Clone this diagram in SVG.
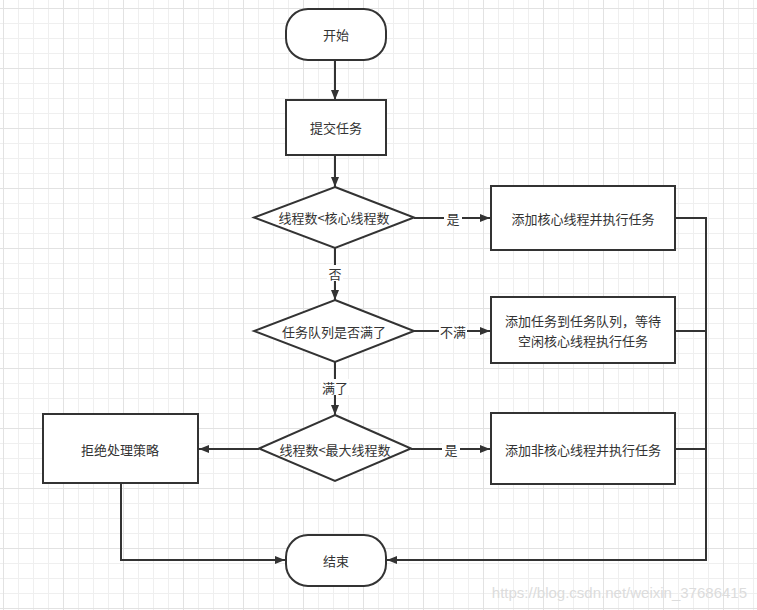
<svg xmlns="http://www.w3.org/2000/svg" width="757" height="610" viewBox="0 0 757 610">
<defs>
<pattern id="grid" x="3" y="8" width="60" height="60" patternUnits="userSpaceOnUse">
<path d="M15.5 0V60M30.5 0V60M45.5 0V60M0 15.5H60M0 30.5H60M0 45.5H60" stroke="#efefef" stroke-width="1" fill="none"/>
<path d="M0.5 0V60M0 0.5H60" stroke="#e2e2e2" stroke-width="1" fill="none"/>
</pattern>
<marker id="arr" viewBox="0 0 10 8" refX="10" refY="4" markerWidth="10" markerHeight="8" markerUnits="userSpaceOnUse" orient="auto">
<path d="M0 0L10 4L0 8Z" fill="#333"/>
</marker>
<style>
.n{fill:#fff;stroke:#333;stroke-width:2}
.t{font-family:"Noto Sans CJK SC","Liberation Sans",sans-serif;font-size:13px;fill:#333;text-anchor:middle;dominant-baseline:central}
.c{fill:none;stroke:#333;stroke-width:2}
.lb{fill:#fff}
</style>
</defs>
<rect width="757" height="610" fill="#fff"/>
<rect width="757" height="610" fill="url(#grid)"/>
<g id="connectors">
<path class="c" d="M335 60V100" marker-end="url(#arr)"/>
<path class="c" d="M335 155V187" marker-end="url(#arr)"/>
<path class="c" d="M335 248V300" marker-end="url(#arr)"/>
<path class="c" d="M335 362V415" marker-end="url(#arr)"/>
<path class="c" d="M414 218H490" marker-end="url(#arr)"/>
<path class="c" d="M414 331H490" marker-end="url(#arr)"/>
<path class="c" d="M411 449H490" marker-end="url(#arr)"/>
<path class="c" d="M259 449H199" marker-end="url(#arr)"/>
<path class="c" d="M675 218H706V560H387" marker-end="url(#arr)"/>
<path class="c" d="M675 331H706"/>
<path class="c" d="M675 449H706"/>
<path class="c" d="M121 484V560H285" marker-end="url(#arr)"/>
<rect class="lb" x="444" y="210" width="18" height="16"/>
<text class="t" x="453" y="218">是</text>
<rect class="lb" x="439" y="323" width="28" height="16"/>
<text class="t" x="453" y="331">不满</text>
<rect class="lb" x="442" y="441" width="18" height="16"/>
<text class="t" x="451" y="449">是</text>
<rect class="lb" x="327" y="265" width="16" height="16"/>
<text class="t" x="335" y="273">否</text>
<rect class="lb" x="321" y="379" width="28" height="16"/>
<text class="t" x="335" y="387">满了</text>
</g>
<g id="start">
<rect class="n" x="286" y="9" width="100" height="51" rx="22" ry="22"/>
<text class="t" x="336" y="34.5">开始</text>
</g>
<g id="submit">
<rect class="n" x="286" y="100" width="100" height="55"/>
<text class="t" x="336" y="127.5">提交任务</text>
</g>
<g id="d1">
<polygon class="n" points="335,187 414,217.5 335,248 254,217.5"/>
<text class="t" x="334" y="217.5">线程数&lt;核心线程数</text>
</g>
<g id="b1">
<rect class="n" x="491" y="186" width="184" height="64"/>
<text class="t" x="583" y="218">添加核心线程并执行任务</text>
</g>
<g id="d2">
<polygon class="n" points="335,300 414,331 335,362 254,331"/>
<text class="t" x="334" y="331">任务队列是否满了</text>
</g>
<g id="b2">
<rect class="n" x="491" y="297" width="184" height="66"/>
<text class="t" x="583" y="320.5">添加任务到任务队列，等待</text>
<text class="t" x="583" y="340">空闲核心线程执行任务</text>
</g>
<g id="d3">
<polygon class="n" points="335,415 411,448.5 335,481 259,448.5"/>
<text class="t" x="335" y="449">线程数&lt;最大线程数</text>
</g>
<g id="b3">
<rect class="n" x="491" y="413" width="184" height="71"/>
<text class="t" x="583" y="449">添加非核心线程并执行任务</text>
</g>
<g id="reject">
<rect class="n" x="43" y="414" width="155" height="69"/>
<text class="t" x="120" y="449">拒绝处理策略</text>
</g>
<g id="end">
<rect class="n" x="286" y="535" width="100" height="51" rx="22" ry="22"/>
<text class="t" x="336" y="560.5">结束</text>
</g>
<text x="747" y="598" font-family="Liberation Sans, sans-serif" font-size="15" fill="#dcdcdc" text-anchor="end">https://blog.csdn.net/weixin_37686415</text>
</svg>
